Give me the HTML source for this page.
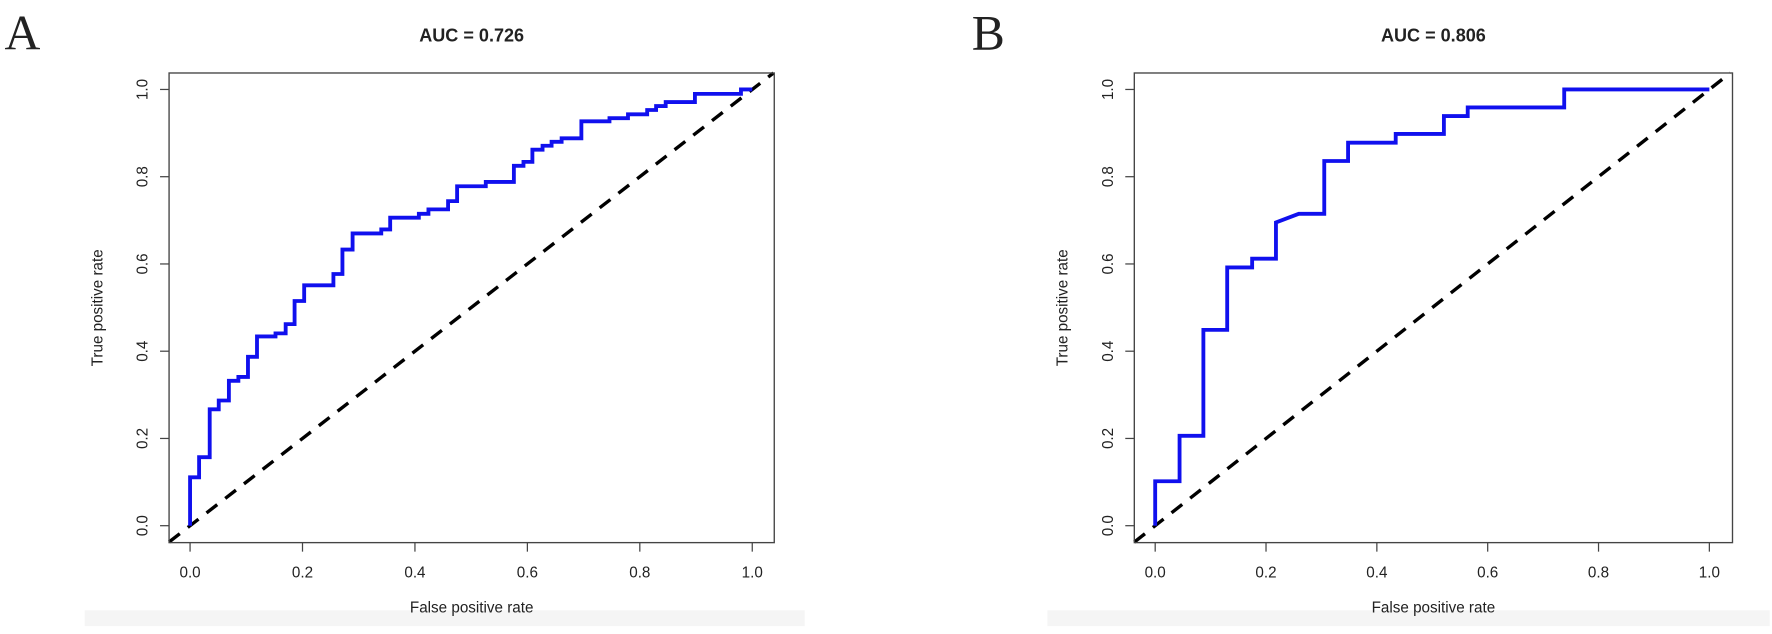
<!DOCTYPE html>
<html><head><meta charset="utf-8">
<style>
html,body{margin:0;padding:0;background:#fff;}
svg{display:block;}
text{font-family:"Liberation Sans",Arial,sans-serif;fill:#222;}
</style></head>
<body>
<svg id="chart" width="1772" height="634" viewBox="0 0 1570 562" preserveAspectRatio="none" xmlns="http://www.w3.org/2000/svg">
  <rect x="75" y="541" width="638" height="14" fill="#f5f5f5"/>
  <rect x="928" y="541" width="640" height="14" fill="#f5f5f5"/>
  <text x="4" y="44" font-size="44" style="font-family:'Liberation Serif',serif" fill="#111">A</text>
  <text x="861" y="44" font-size="44" style="font-family:'Liberation Serif',serif" fill="#111">B</text>
</svg>
<script>
// Panel A ROC points (FPR, TPR)
const fprA = [0,0,0.016,0.016,0.035,0.035,0.051,0.051,0.069,0.069,0.086,0.086,0.103,0.103,0.119,0.119,0.152,0.152,0.170,0.170,0.186,0.186,0.203,0.203,0.255,0.255,0.271,0.271,0.289,0.289,0.340,0.340,0.356,0.356,0.407,0.407,0.424,0.424,0.459,0.459,0.475,0.475,0.526,0.526,0.576,0.576,0.593,0.593,0.609,0.609,0.627,0.627,0.643,0.643,0.661,0.661,0.696,0.696,0.746,0.746,0.779,0.779,0.813,0.813,0.829,0.829,0.846,0.846,0.898,0.898,0.980,0.980,1.0];
const tprA = [0,0.111,0.111,0.157,0.157,0.267,0.267,0.287,0.287,0.332,0.332,0.341,0.341,0.387,0.387,0.434,0.434,0.441,0.441,0.462,0.462,0.515,0.515,0.551,0.551,0.577,0.577,0.633,0.633,0.670,0.670,0.679,0.679,0.706,0.706,0.715,0.715,0.725,0.725,0.744,0.744,0.778,0.778,0.788,0.788,0.825,0.825,0.834,0.834,0.862,0.862,0.871,0.871,0.880,0.880,0.888,0.888,0.927,0.927,0.934,0.934,0.943,0.943,0.953,0.953,0.962,0.962,0.971,0.971,0.990,0.990,1.0,1.0];
// Panel B ROC points
const fprB = [0,0,0.044,0.044,0.087,0.087,0.130,0.130,0.175,0.175,0.218,0.218,0.259,0.305,0.305,0.348,0.348,0.434,0.434,0.521,0.521,0.564,0.564,0.738,0.738,1.0];
const tprB = [0,0.102,0.102,0.206,0.206,0.449,0.449,0.592,0.592,0.612,0.612,0.695,0.715,0.715,0.836,0.836,0.878,0.878,0.898,0.898,0.939,0.939,0.959,0.959,1.0,1.0];
const tickVals = [0,0.2,0.4,0.6,0.8,1.0];
const tickLabels = ["0.0","0.2","0.4","0.6","0.8","1.0"];
const titles = ["AUC = 0.726","AUC = 0.806"];

const svg = document.getElementById('chart');
const NS = 'http://www.w3.org/2000/svg';
function mk(tag, attrs){const e=document.createElementNS(NS,tag);for(const k in attrs)e.setAttribute(k,attrs[k]);svg.appendChild(e);return e;}

const panels = [
  {id:'a', x0:168.4, x1:666.5, bl:149.8, br:686, fpr:fprA, tpr:tprA, title:titles[0]},
  {id:'b', x0:1023.5, x1:1514.5, bl:1005, br:1535, fpr:fprB, tpr:tprB, title:titles[1]}
];
const yTop = 79.3, yBot = 466, bt = 64.7, bb = 481;

panels.forEach(p=>{
  const sx = v => p.x0 + v*(p.x1-p.x0);
  const sy = v => yBot - v*(yBot-yTop);
  const cx = (p.bl+p.br)/2;
  let t = mk('text',{x:cx,y:37,'text-anchor':'middle','font-size':'16','font-weight':'bold',fill:'#111'});
  t.textContent = p.title;
  
  
  const xa = (p.bl-p.x0)/(p.x1-p.x0), xb=(p.br-p.x0)/(p.x1-p.x0);
  const ya = (yBot-bb)/(yBot-yTop), yb=(yBot-bt)/(yBot-yTop);
  const lo = Math.max(xa,ya), hi=Math.min(xb,yb);
  let d = mk('line',{x1:sx(lo),y1:sy(lo),x2:sx(hi),y2:sy(hi),stroke:'#000','stroke-width':'3','stroke-dasharray':'12 9'});
  
  
  const pts = p.fpr.map((f,i)=>sx(f).toFixed(1)+','+sy(p.tpr[i]).toFixed(1)).join(' ');
  let c = mk('polyline',{points:pts,fill:'none',stroke:'#1010ee','stroke-width':'3.4','stroke-linejoin':'miter'});
  
  
  let b = mk('rect',{x:p.bl,y:bt,width:p.br-p.bl,height:bb-bt,fill:'none',stroke:'#444','stroke-width':'1.2'});
  
  
  tickVals.forEach((v,i)=>{
    let l = mk('line',{x1:sx(v),y1:bb,x2:sx(v),y2:bb+8,stroke:'#444','stroke-width':'1.1'});
    
    
    let tl = mk('text',{x:sx(v),y:512,'text-anchor':'middle','font-size':'13.5'});
    tl.textContent = tickLabels[i];
    
    
  });
  tickVals.forEach((v,i)=>{
    let l = mk('line',{x1:p.bl-8,y1:sy(v),x2:p.bl,y2:sy(v),stroke:'#444','stroke-width':'1.1'});
    
    
    const lx = p.bl-23;
    let tl = mk('text',{x:lx,y:sy(v),'text-anchor':'middle','font-size':'13.5',transform:'rotate(-90 '+lx+' '+sy(v)+')','dominant-baseline':'central'});
    tl.textContent = tickLabels[i];
    
    
  });
  let xt = mk('text',{x:cx,y:543,'text-anchor':'middle','font-size':'13.5'});
  xt.textContent = 'False positive rate';
  
  
  const ax = p.bl-63, ay = (bt+bb)/2;
  let yt = mk('text',{x:ax,y:ay,'text-anchor':'middle','font-size':'13.5',transform:'rotate(-90 '+ax+' '+ay+')','dominant-baseline':'central'});
  yt.textContent = 'True positive rate';
  
  
});
</script>
</body></html>
